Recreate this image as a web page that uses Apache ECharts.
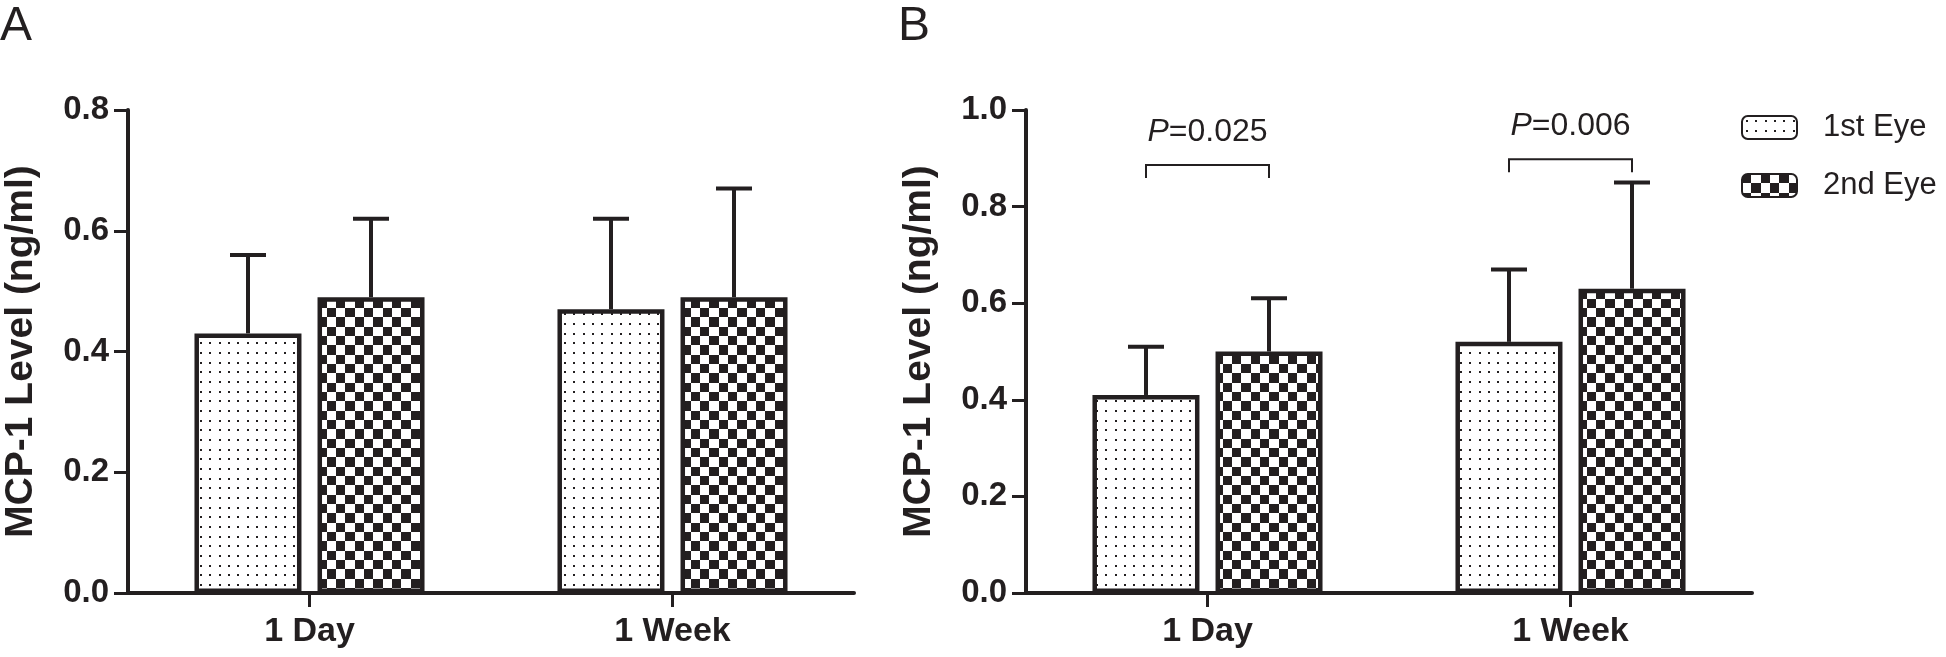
<!DOCTYPE html>
<html>
<head>
<meta charset="utf-8">
<script src="https://cdn.jsdelivr.net/npm/echarts@6/dist/echarts.min.js"></script>
<style>
html,body{margin:0;padding:0;background:#fff;}
#chart{width:1946px;height:657px;}
</style>
</head>
<body>
<div id="chart"></div>
<script>
// ---- data ----
const categories = ['1 Day', '1 Week'];
const seriesNames = ['1st Eye', '2nd Eye'];
// Panel A
const aFirstMean = [0.43, 0.47];
const aFirstSD = [0.13, 0.15];
const aSecondMean = [0.49, 0.49];
const aSecondSD = [0.13, 0.18];
// Panel B
const bFirstMean = [0.41, 0.52];
const bFirstSD = [0.10, 0.15];
const bSecondMean = [0.50, 0.63];
const bSecondSD = [0.11, 0.22];
// significance brackets (panel B)
const bracketLevel = [0.886, 0.898];
const bracketLeg = 0.027;
const pValues = ['0.025', '0.006'];
const yTicksA = [0, 0.8, 0.2];
const yTicksB = [0, 1.0, 0.2];

// ---- style ----
const INK = '#231f20';
const FONT = "'Liberation Sans', Arial, sans-serif";
const BAR_W = 107;
const BAR_OFF = 61.5;

function dotsPattern() {
  const c = document.createElement('canvas');
  c.width = 28; c.height = 29;
  const g = c.getContext('2d');
  g.fillStyle = '#fff'; g.fillRect(0, 0, 28, 29);
  g.fillStyle = INK;
  [4, 13, 23].forEach(x => [4, 14, 23].forEach(y => g.fillRect(x, y, 2, 2)));
  return c;
}
function checkerPattern() {
  const c = document.createElement('canvas');
  c.width = 56; c.height = 56;
  const g = c.getContext('2d');
  g.fillStyle = '#fff'; g.fillRect(0, 0, 56, 56);
  g.fillStyle = INK;
  const e = [0, 9, 19, 28, 37, 47, 56];
  for (let i = 0; i < 6; i++) for (let j = 0; j < 6; j++) {
    if ((i + j) % 2 === 0) g.fillRect(e[i], e[j], e[i + 1] - e[i], e[j + 1] - e[j]);
  }
  return c;
}
const dots = { image: dotsPattern(), repeat: 'repeat' };
const checker = { image: checkerPattern(), repeat: 'repeat' };

const chart = echarts.init(document.getElementById('chart'), null, { renderer: 'canvas' });

function barSeries(name, data, idx, pattern) {
  return {
    type: 'bar', name: name, xAxisIndex: idx, yAxisIndex: idx,
    data: data, barWidth: BAR_W, barGap: '15%',
    itemStyle: { color: pattern, borderColor: INK, borderWidth: 4.5 },
    emphasis: { disabled: true }, z: 3
  };
}
function errSeries(means, sds, idx, offset) {
  return {
    type: 'custom', xAxisIndex: idx, yAxisIndex: idx, z: 2, silent: true,
    data: means.map((m, i) => [i, m, sds[i]]),
    renderItem: function (params, api) {
      const cat = api.value(0), m = api.value(1), sd = api.value(2);
      const b = api.coord([cat, m]);
      const t = api.coord([cat, m + sd]);
      const x = b[0] + offset;
      const st = { stroke: INK, lineWidth: 4 };
      return {
        type: 'group', children: [
          { type: 'line', shape: { x1: x, y1: b[1], x2: x, y2: t[1] }, style: st },
          { type: 'line', shape: { x1: x - 18, y1: t[1], x2: x + 18, y2: t[1] }, style: st }
        ]
      };
    }
  };
}
const bracketSeries = {
  type: 'custom', xAxisIndex: 1, yAxisIndex: 1, z: 4, silent: true,
  data: bracketLevel.map((v, i) => [i, v]),
  renderItem: function (params, api) {
    const i = api.value(0), v = api.value(1);
    const c = api.coord([i, v]);
    const l = api.coord([i, v - bracketLeg]);
    const x1 = c[0] - BAR_OFF, x2 = c[0] + BAR_OFF;
    return {
      type: 'group', children: [
        { type: 'polyline', shape: { points: [[x1, l[1]], [x1, c[1]], [x2, c[1]], [x2, l[1]]] },
          style: { stroke: INK, lineWidth: 2, fill: null } },
        { type: 'text', style: {
            x: c[0], y: c[1] - 33, text: '{i|P}=' + pValues[params.dataIndex],
            align: 'center', verticalAlign: 'middle',
            fontSize: 32, fontFamily: FONT, fill: INK,
            rich: { i: { fontStyle: 'italic', fontSize: 32, fontFamily: FONT, fill: INK } }
        } }
      ]
    };
  }
};

function yAxis(idx, ticks) {
  return {
    type: 'value', gridIndex: idx, min: ticks[0], max: ticks[1], interval: ticks[2],
    name: 'MCP-1 Level (ng/ml)', nameLocation: 'middle', nameGap: 87,
    nameTextStyle: { fontSize: 39, fontWeight: 'bold', fontFamily: FONT, color: INK },
    axisLine: { show: true, lineStyle: { color: INK, width: 4 } },
    axisTick: { show: true, length: 14, lineStyle: { color: INK, width: 3 } },
    axisLabel: { fontSize: 33, fontWeight: 'bold', fontFamily: FONT, color: INK, margin: 19,
      formatter: v => v.toFixed(1) },
    splitLine: { show: false }
  };
}
function xAxis(idx) {
  return {
    type: 'category', gridIndex: idx, data: categories,
    axisLine: { show: true, lineStyle: { color: INK, width: 4 } },
    axisTick: { show: true, alignWithLabel: true, length: 14, lineStyle: { color: INK, width: 3 } },
    axisLabel: { fontSize: 34, fontWeight: 'bold', fontFamily: FONT, color: INK, margin: 22 }
  };
}

chart.setOption({
  animation: false,
  backgroundColor: '#fff',
  title: [
    { text: 'A', left: 0, top: 3, padding: 0, textStyle: { fontSize: 48, fontWeight: 'normal', fontFamily: FONT, color: INK } },
    { text: 'B', left: 898, top: 3, padding: 0, textStyle: { fontSize: 48, fontWeight: 'normal', fontFamily: FONT, color: INK } }
  ],
  legend: {
    data: seriesNames, orient: 'vertical', left: 1736, top: 107,
    itemWidth: 55, itemHeight: 23, itemGap: 27, selectedMode: false,
    textStyle: { fontSize: 31, fontFamily: FONT, color: INK, padding: [0, 0, 0, 21] }
  },
  grid: [
    { left: 128, top: 110, width: 726, height: 483 },
    { left: 1026, top: 110, width: 726, height: 483 }
  ],
  xAxis: [xAxis(0), xAxis(1)],
  yAxis: [yAxis(0, yTicksA), yAxis(1, yTicksB)],
  series: [
    barSeries(seriesNames[0], aFirstMean, 0, dots),
    barSeries(seriesNames[1], aSecondMean, 0, checker),
    errSeries(aFirstMean, aFirstSD, 0, -BAR_OFF),
    errSeries(aSecondMean, aSecondSD, 0, BAR_OFF),
    barSeries(seriesNames[0], bFirstMean, 1, dots),
    barSeries(seriesNames[1], bSecondMean, 1, checker),
    errSeries(bFirstMean, bFirstSD, 1, -BAR_OFF),
    errSeries(bSecondMean, bSecondSD, 1, BAR_OFF),
    bracketSeries
  ]
});
</script>
</body>
</html>
